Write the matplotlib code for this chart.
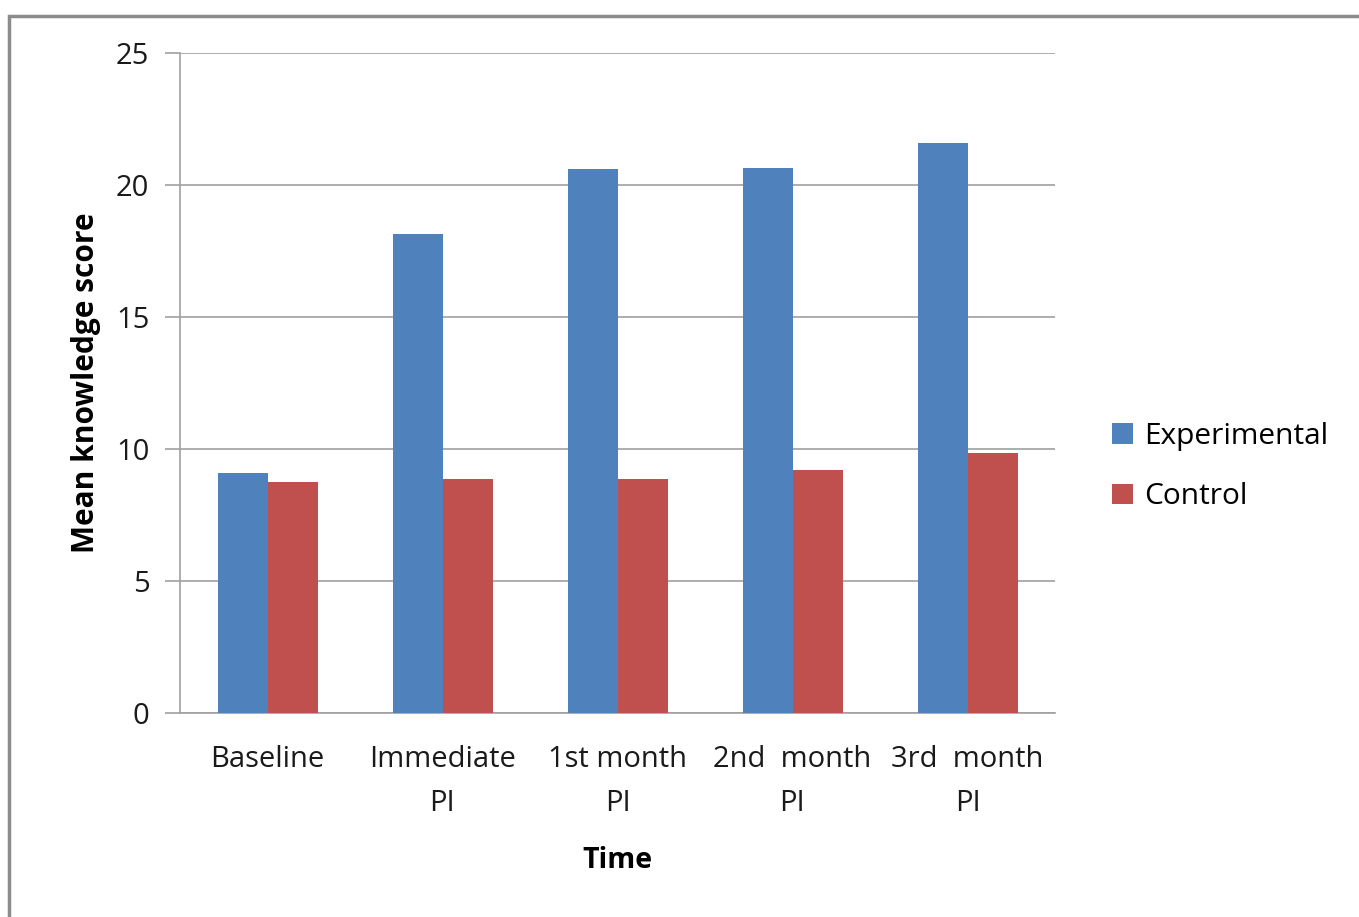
import matplotlib.pyplot as plt
import numpy as np
from matplotlib.patches import Rectangle

categories = ["Baseline", "Immediate\nPI", "1st month\nPI", "2nd  month\nPI", "3rd  month\nPI"]
experimental = [9.1, 18.15, 20.6, 20.65, 21.6]
control = [8.75, 8.85, 8.85, 9.2, 9.85]

plt.rcParams['font.family'] = ['Open Sans', 'DejaVu Sans']

fig = plt.figure(figsize=(13.59, 9.17), dpi=100)
# grey frame round the chart
fig.patches.append(Rectangle((9 / 1359, -0.05), 1.1, (917 - 15.5) / 917 + 0.05,
                             transform=fig.transFigure, fill=False,
                             edgecolor='#8c8c8c', linewidth=2.5))

ax = fig.add_axes([180 / 1359, (917 - 713) / 917, 875 / 1359, 660 / 917])

x = np.arange(len(categories))
w = 50 / 175
ax.bar(x - w / 2, experimental, w, color='#4f81bd', label='Experimental', zorder=3)
ax.bar(x + w / 2, control, w, color='#c0504d', label='Control', zorder=3)

ax.set_xlim(-0.5, len(categories) - 0.5)
ax.set_ylim(0, 25)
ax.set_yticks([0, 5, 10, 15, 20, 25])
ax.yaxis.grid(True, color='#a0a0a0', linewidth=1.2, zorder=0)
ax.set_xticks(x)
ax.set_xticklabels(categories, fontsize=21, color='#1a1a1a', linespacing=1.7)
ax.tick_params(axis='x', length=0, pad=23)
ax.tick_params(axis='y', labelsize=21, length=11, color='#a0a0a0', width=1.2,
               pad=11, labelcolor='#1a1a1a')

for s in ['top', 'right']:
    ax.spines[s].set_visible(False)
ax.spines['left'].set_color('#a0a0a0')
ax.spines['left'].set_linewidth(1.2)
ax.spines['bottom'].set_color('#a0a0a0')
ax.spines['bottom'].set_linewidth(1.2)

ax.set_xlabel("Time", fontsize=20.5, fontweight='bold', labelpad=20)
ax.set_ylabel("Mean knowledge score", fontsize=21.5, fontweight='bold', labelpad=11)

ax.legend(loc='center left', bbox_to_anchor=(1.052, 0.373), frameon=False,
          fontsize=21.5, handlelength=0.7, handleheight=0.7, handletextpad=0.35,
          labelspacing=1.05, borderaxespad=0)

fig.savefig("out.png", dpi=100)
